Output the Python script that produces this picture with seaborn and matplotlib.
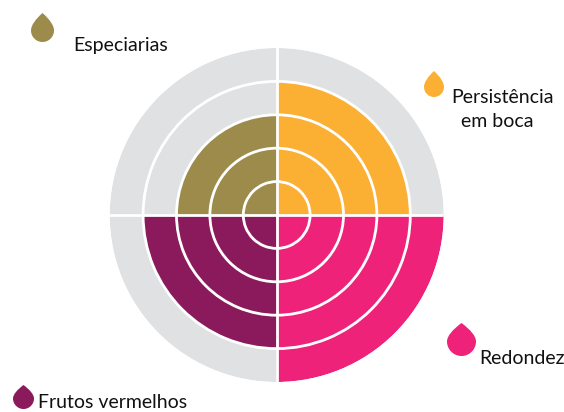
import numpy as np
import matplotlib
matplotlib.use('Agg')
import matplotlib.pyplot as plt
from matplotlib.path import Path
from matplotlib.patches import PathPatch
import seaborn as sns

# dados, quadrantes no sentido anti-horario a partir de 0 graus
labels = ['Persistência\n  em boca', 'Especiarias', 'Frutos vermelhos', 'Redondez']
scores = [4, 3, 4, 5]
colors = ['#FBB034', '#9C8B4A', '#8B1A5C', '#EE2279']
grey = '#DFE1E3'
levels = [1, 2, 3, 4, 5]

# posicoes em pixels: gotas e textos
drop_left = [424, 31, 13, 447]
drop_right = [444, 54, 34, 476]
drop_top = [71, 13, 385, 323]
drop_bottom = [97, 42, 409, 356]
text_x = [451, 73, 38, 479]
text_y = [109, 45, 403, 358]

sns.set_theme(style='white')
plt.rcParams['font.family'] = ['Lato', 'DejaVu Sans']

W, H = 564, 412
fig = plt.figure(figsize=(W / 100, H / 100), dpi=100)

cx, cy, R = 276.7, 215, 167
ax = fig.add_axes([(cx - R) / W, (H - cy - R) / H, 2 * R / W, 2 * R / H], projection='polar')

thetas = np.radians([45, 135, 225, 315])
for theta, score, color in zip(thetas, scores, colors):
    for level in levels:
        c = color if level <= score else grey
        ax.bar(theta, 1, width=np.pi / 2, bottom=level - 1, color=c, linewidth=0, align='center')

ax.set_ylim(0, levels[-1])
ax.set_rticks(levels[:-1])
ax.set_thetagrids([0, 90, 180, 270])
ax.set_xticklabels([])
ax.set_yticklabels([])
ax.grid(True, color='white', linewidth=2.0)
ax.set_axisbelow(False)
ax.spines['polar'].set_visible(False)
ax.patch.set_alpha(0)

# camada em pixels para as gotas e os rotulos
over = fig.add_axes([0, 0, 1, 1], zorder=5)
over.set_xlim(0, W)
over.set_ylim(H, 0)
over.axis('off')


def drop_path(left, right, top, bottom):
    w = (right - left) / 2
    mid = (left + right) / 2
    r_y = bottom - w
    s = r_y - top
    verts = [(mid, top),
             (mid + 0.6 * w, top + 0.35 * s), (right, r_y - 0.3 * s), (right, r_y),
             (right, r_y + 0.55 * w), (mid + 0.55 * w, bottom), (mid, bottom),
             (mid - 0.55 * w, bottom), (left, r_y + 0.55 * w), (left, r_y),
             (left, r_y - 0.3 * s), (mid - 0.6 * w, top + 0.35 * s), (mid, top),
             (mid, top)]
    codes = [Path.MOVETO] + [Path.CURVE4] * 12 + [Path.CLOSEPOLY]
    return Path(verts, codes)


for i, label in enumerate(labels):
    p = drop_path(drop_left[i], drop_right[i], drop_top[i], drop_bottom[i])
    over.add_patch(PathPatch(p, facecolor=colors[i], edgecolor='none'))
    over.text(text_x[i], text_y[i], label, ha='left', va='center', fontsize=14,
              color='#111111', linespacing=1.5)

fig.savefig('out.png', dpi=100)
